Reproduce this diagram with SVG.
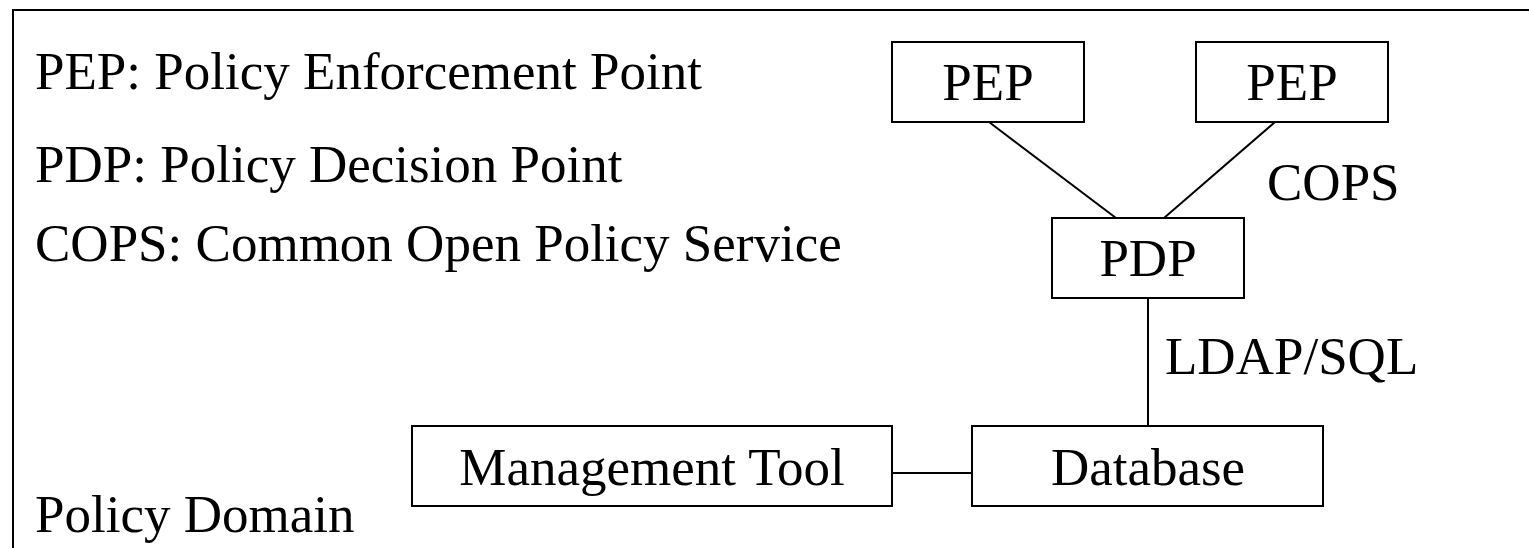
<svg xmlns="http://www.w3.org/2000/svg" width="1529" height="548" viewBox="0 0 1529 548">
<style>
  text { font-family: "Liberation Serif", "Times New Roman", serif; font-size: 53px; fill: #000; }
  .c { text-anchor: middle; }
  .box { fill: #fff; stroke: #000; stroke-width: 2; }
  .ln { stroke: #000; stroke-width: 2; fill: none; }
</style>
<rect id="frame" x="13" y="10" width="1530" height="560" fill="#fff" stroke="#000" stroke-width="2"/>
<g id="legend">
  <text x="35" y="89">PEP: Policy Enforcement Point</text>
  <text x="35" y="182">PDP: Policy Decision Point</text>
  <text x="35" y="261">COPS: Common Open Policy Service</text>
  <text x="35" y="532">Policy Domain</text>
</g>
<g id="connectors">
  <line class="ln" x1="989" y1="122" x2="1116" y2="218"/>
  <line class="ln" x1="1275" y1="122" x2="1164" y2="218"/>
  <line class="ln" x1="1148" y1="298" x2="1148" y2="426"/>
  <line class="ln" x1="892" y1="473" x2="972" y2="473"/>
  <text x="1267" y="200">COPS</text>
  <text x="1165" y="374">LDAP/SQL</text>
</g>
<g id="pep1">
  <rect class="box" x="892" y="42" width="192" height="80"/>
  <text class="c" x="988" y="100">PEP</text>
</g>
<g id="pep2">
  <rect class="box" x="1196" y="42" width="192" height="80"/>
  <text class="c" x="1292" y="100">PEP</text>
</g>
<g id="pdp">
  <rect class="box" x="1052" y="218" width="192" height="80"/>
  <text class="c" x="1148" y="276">PDP</text>
</g>
<g id="mgmt">
  <rect class="box" x="412" y="426" width="480" height="80"/>
  <text class="c" x="652" y="485">Management Tool</text>
</g>
<g id="db">
  <rect class="box" x="972" y="426" width="351" height="80"/>
  <text class="c" x="1148" y="485">Database</text>
</g>
</svg>
